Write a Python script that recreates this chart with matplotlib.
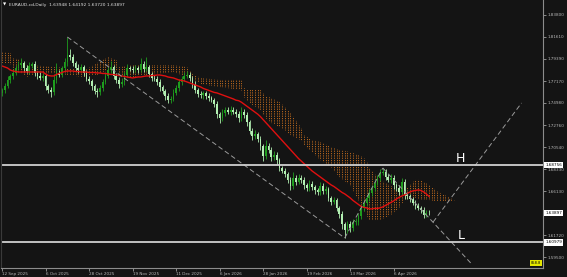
import numpy as np
import matplotlib.pyplot as plt

plt.rcParams['font.family'] = ['DejaVu Sans']

# daily closes, EURAUD-cd (bar 0 = 12 Sep 2025)
closes = [
    1.7627, 1.7667, 1.7728, 1.7768, 1.7798, 1.7848, 1.7878, 1.7898, 1.7848, 1.7818, 1.7868, 1.7888, 1.7798, 1.7768, 1.7748, 1.7768,
    1.7667, 1.7627, 1.7607, 1.7728, 1.7798, 1.7778, 1.7848, 1.7908, 1.7978, 1.7958, 1.7898, 1.7848, 1.7828, 1.7858, 1.7798, 1.7738,
    1.7718, 1.7667, 1.7617, 1.7607, 1.7647, 1.7708, 1.7768, 1.7828, 1.7858, 1.7768, 1.7728, 1.7687, 1.7708, 1.7778, 1.7848, 1.7838,
    1.7828, 1.7848, 1.7828, 1.7888, 1.7838, 1.7858, 1.7788, 1.7748, 1.7738, 1.7708, 1.7657, 1.7617, 1.7567, 1.7527, 1.7537, 1.7597,
    1.7647, 1.7708, 1.7738, 1.7768, 1.7778, 1.7748, 1.7687, 1.7627, 1.7587, 1.7577, 1.7597, 1.7567, 1.7547, 1.7527, 1.7487, 1.7387,
    1.7346, 1.7397, 1.7427, 1.7407, 1.7427, 1.7407, 1.7387, 1.7346, 1.7407, 1.7377, 1.7306, 1.7216, 1.7166, 1.7186, 1.7136, 1.7066,
    1.6965, 1.7066, 1.7026, 1.6955, 1.6975, 1.6925, 1.6845, 1.6815, 1.6785, 1.6725, 1.6664, 1.6745, 1.6705, 1.6745, 1.6725, 1.6674,
    1.6644, 1.6685, 1.6654, 1.6624, 1.6604, 1.6664, 1.6614, 1.6634, 1.6544, 1.6504, 1.6524, 1.6444, 1.6384, 1.6283, 1.6223, 1.6283,
    1.6243, 1.6303, 1.6303, 1.6363, 1.6444, 1.6494, 1.6544, 1.6594, 1.6644, 1.6695, 1.6745, 1.6795, 1.6805, 1.6755, 1.6725, 1.6745,
    1.6674, 1.6644, 1.6604, 1.6705, 1.6574, 1.6564, 1.6534, 1.6494, 1.6464, 1.6444, 1.6424, 1.6372, 1.6395, 1.63897,
]
first_open = 1.7600

# wick lengths in pips above / below the body
upper_wick = [
    25, 30, 40, 20, 35, 30, 45, 50, 20, 30, 40, 25, 30, 20, 35, 30,
    20, 25, 30, 60, 100, 30, 25, 40, 181, 60, 30, 25, 40, 30, 20, 25,
    30, 20, 25, 30, 35, 25, 40, 30, 60, 20, 25, 30, 35, 30, 40, 25,
    30, 35, 20, 60, 30, 100, 25, 20, 30, 25, 30, 20, 25, 30, 35, 40,
    30, 25, 30, 40, 35, 25, 20, 30, 25, 30, 20, 25, 30, 20, 25, 30,
    20, 35, 30, 25, 40, 30, 25, 30, 50, 30, 25, 20, 30, 40, 25, 30,
    20, 60, 30, 25, 40, 30, 20, 25, 30, 20, 25, 60, 30, 40, 25, 30,
    20, 35, 30, 25, 20, 40, 30, 35, 25, 20, 30, 25, 20, 30, 25, 30,
    35, 30, 40, 30, 25, 30, 35, 40, 30, 35, 30, 40, 40, 25, 30, 35,
    30, 25, 30, 40, 25, 30, 25, 20, 30, 25, 20, 30, 25, 24,
]
lower_wick = [
    30, 25, 20, 35, 30, 25, 20, 30, 40, 25, 30, 20, 35, 30, 25, 30,
    40, 30, 50, 25, 30, 20, 25, 30, 40, 30, 25, 35, 30, 20, 30, 25,
    30, 40, 30, 45, 25, 30, 20, 25, 30, 35, 30, 40, 25, 30, 20, 25,
    30, 25, 30, 20, 30, 25, 35, 30, 25, 30, 35, 30, 40, 35, 30, 25,
    20, 25, 30, 20, 25, 30, 35, 30, 25, 30, 35, 25, 30, 25, 35, 40,
    45, 25, 30, 25, 30, 20, 30, 40, 25, 30, 35, 30, 40, 30, 35, 40,
    50, 25, 30, 40, 30, 35, 30, 25, 30, 35, 40, 25, 30, 25, 30, 35,
    30, 25, 30, 35, 30, 25, 30, 25, 35, 30, 25, 35, 40, 45, 80, 30,
    35, 30, 25, 30, 25, 30, 25, 30, 25, 30, 25, 30, 25, 30, 25, 30,
    35, 30, 25, 30, 35, 25, 30, 25, 30, 25, 30, 25, 20, 18,
]

# red moving average
ma = [
    1.7868, 1.7858, 1.7848, 1.7828, 1.7818, 1.7813, 1.7808, 1.7808, 1.7808, 1.7808, 1.7808, 1.7808, 1.7808, 1.7808, 1.7808, 1.7808,
    1.7788, 1.7773, 1.7768, 1.7768, 1.7783, 1.7793, 1.7803, 1.7813, 1.7818, 1.7818, 1.7818, 1.7813, 1.7813, 1.7808, 1.7808, 1.7808,
    1.7803, 1.7803, 1.7803, 1.7798, 1.7798, 1.7793, 1.7793, 1.7788, 1.7783, 1.7783, 1.7778, 1.7773, 1.7768, 1.7763, 1.7758, 1.7753,
    1.7748, 1.7753, 1.7758, 1.7758, 1.7763, 1.7768, 1.7768, 1.7773, 1.7773, 1.7778, 1.7778, 1.7773, 1.7768, 1.7758, 1.7753, 1.7748,
    1.7738, 1.7728, 1.7723, 1.7718, 1.7708, 1.7698, 1.7688, 1.7678, 1.7668, 1.7658, 1.7643, 1.7633, 1.7623, 1.7613, 1.7603, 1.7598,
    1.7588, 1.7578, 1.7568, 1.7558, 1.7548, 1.7538, 1.7525, 1.7520, 1.7505, 1.7485, 1.7465, 1.7445, 1.7425, 1.7405, 1.7385, 1.7360,
    1.7330, 1.7300, 1.7270, 1.7240, 1.7210, 1.7180, 1.7150, 1.7120, 1.7090, 1.7060, 1.7030, 1.7000, 1.6970, 1.6940, 1.6915, 1.6890,
    1.6865, 1.6840, 1.6815, 1.6795, 1.6775, 1.6755, 1.6735, 1.6715, 1.6695, 1.6675, 1.6660, 1.6640, 1.6620, 1.6600, 1.6585, 1.6565,
    1.6545, 1.6520, 1.6500, 1.6480, 1.6460, 1.6450, 1.6445, 1.6435, 1.6435, 1.6440, 1.6440, 1.6445, 1.6455, 1.6470, 1.6485, 1.6500,
    1.6515, 1.6535, 1.6550, 1.6565, 1.6575, 1.6590, 1.6605, 1.6615, 1.6620, 1.6625, 1.6620, 1.6605, 1.6585, 1.6560,
]

# ichimoku cloud edges (bar, upper, lower)
cloud_bar = [0, 3, 4, 7, 9, 11, 19, 24, 30, 35, 39, 42, 43, 48, 63, 68, 70, 73, 80, 88,
             89, 91, 95, 97, 99, 102, 104, 106, 108, 110, 111, 114, 117, 121, 124, 128, 132, 134, 135, 139,
             143, 146, 148, 150, 152, 154, 157, 161, 165, 167]
cloud_top = [1.8008, 1.7998, 1.7948, 1.7928, 1.7878, 1.7878, 1.7858, 1.7848, 1.7818, 1.7898,
             1.7958, 1.7928, 1.7858, 1.7878, 1.7878, 1.7858, 1.7788, 1.7748, 1.7728, 1.7728,
             1.7647, 1.7627, 1.7627, 1.7567, 1.7547, 1.7507, 1.7457, 1.7397, 1.7326, 1.7246,
             1.7176, 1.7126, 1.7106, 1.7056, 1.7026, 1.7005, 1.6965, 1.6925, 1.6845, 1.6725,
             1.6664, 1.6624, 1.6624, 1.6674, 1.6725, 1.6725, 1.6674, 1.6594, 1.6544, 1.6504]
cloud_bot = [1.7898, 1.7898, 1.7808, 1.7798, 1.7758, 1.7778, 1.7798, 1.7778, 1.7758, 1.7778,
             1.7828, 1.7828, 1.7778, 1.7758, 1.7808, 1.7758, 1.7728, 1.7687, 1.7657, 1.7627,
             1.7557, 1.7497, 1.7427, 1.7346, 1.7296, 1.7256, 1.7226, 1.7176, 1.7146, 1.7126,
             1.7076, 1.7005, 1.6925, 1.6855, 1.6755, 1.6674, 1.6474, 1.6374, 1.6323, 1.6323,
             1.6374, 1.6444, 1.6524, 1.6544, 1.6544, 1.6524, 1.6524, 1.6504, 1.6504, 1.6504]

# hand drawn trend lines (bar, price)
trend_lines = [
    ([24, 126], [1.8159, 1.6143]),
    ([126, 140], [1.6143, 1.6845]),
    ([140, 173], [1.6845, 1.5872]),
    ([158.5, 191], [1.6303, 1.7497]),
]
level_h = 1.68756
level_l = 1.60979
last_price = 1.63897

price_ticks = [1.83800, 1.81610, 1.79390, 1.77170, 1.74980, 1.72760, 1.70540,
               1.68330, 1.66130, 1.61720, 1.59500]
date_bars = [0, 16, 32, 48, 64, 80, 96, 112, 128, 144]
date_labels = ['12 Sep 2025', '6 Oct 2025', '28 Oct 2025', '19 Nov 2025', '11 Dec 2025',
               '6 Jan 2026', '28 Jan 2026', '19 Feb 2026', '13 Mar 2026', '6 Apr 2026']

bg = '#141414'
bull = '#1e9e1e'
bear = '#b2f0b2'
ymin, ymax = 1.5842, 1.8530

closes = np.array(closes)
opens = np.concatenate([[first_open], closes[:-1]])
pip = 0.0001
highs = np.maximum(opens, closes) + np.array(upper_wick) * pip
lows = np.minimum(opens, closes) - np.array(lower_wick) * pip
bars = np.arange(len(closes))
colors = np.where(closes >= opens, bull, bear)

fig = plt.figure(figsize=(5.67, 2.77), dpi=100, facecolor=bg)
ax = fig.add_axes([1 / 567, 9 / 277, 542 / 567, 268 / 277])
ax.set_facecolor(bg)

# cloud: dotted vertical strokes per bar, clipped to the cloud outline
cloud = ax.fill_between(cloud_bar, cloud_bot, cloud_top, facecolor='none', linewidth=0)
strokes = ax.vlines(np.arange(cloud_bar[0], cloud_bar[-1] + 1), ymin, ymax,
                    colors='#b5651d', linewidth=0.7, linestyles=(0, (1.2, 1.2)))
strokes.set_clip_path(cloud.get_paths()[0], transform=ax.transData)

# candles
ax.vlines(bars, lows, highs, colors=colors, linewidth=0.6)
body = np.maximum(np.abs(closes - opens), 0.0006)
ax.bar(bars, body, bottom=np.minimum(opens, closes), width=0.62, color=colors, linewidth=0)

ax.plot(bars, ma, color='#e01010', lw=1.0)

for bx, py in trend_lines:
    ax.plot(bx, py, color='#9a9a9a', lw=0.7, ls=(0, (5, 3)))

ax.axhline(level_h, color='#d0d0d0', lw=1.3)
ax.axhline(level_l, color='#d0d0d0', lw=1.3)
ax.text(168.7, 1.6945, 'H', color='white', fontsize=9, ha='center', va='center')
ax.text(168.7, 1.6163, 'L', color='white', fontsize=9, ha='center', va='center')

ax.set_xlim(-0.4, 198.9)
ax.set_ylim(ymin, ymax)

ax.yaxis.tick_right()
ax.set_yticks(price_ticks)
ax.set_yticklabels([f'{v:.5f}' for v in price_ticks])
ax.tick_params(axis='y', colors='#b8b8b8', labelsize=3, length=2, width=0.5, pad=1.5)
ax.set_xticks(date_bars)
ax.set_xticklabels(date_labels)
for lbl in ax.get_xticklabels():
    lbl.set_ha('left')
ax.tick_params(axis='x', colors='#b8b8b8', labelsize=3, length=2, width=0.5, pad=1)

ax.spines['top'].set_visible(False)
ax.spines['left'].set_color('#3a3a3a')
for s in ['right', 'bottom']:
    ax.spines[s].set_color('#8c8c8c')
    ax.spines[s].set_linewidth(0.8)

for v in [level_h, last_price, level_l]:
    ax.text(1.004, v, f'{v:.5f}', transform=ax.get_yaxis_transform(), fontsize=3,
            color='black', va='center', ha='left',
            bbox=dict(boxstyle='square,pad=0.25', fc='white', ec='none'))

ax.text(0.997, 0.018, '858.8', transform=ax.transAxes, fontsize=2.6, color='black',
        ha='right', va='center', bbox=dict(boxstyle='square,pad=0.2', fc='#e4e600', ec='none'))

fig.text(2.5 / 567, 1 - 5 / 277, '\u25bc', fontsize=3, color='white', va='center')
fig.text(9 / 567, 1 - 5 / 277, 'EURAUD-cd,Daily  1.63948 1.64192 1.63720 1.63897',
         fontsize=3.2, color='#e0e0e0', va='center')

fig.savefig('out.png', dpi=100, facecolor=bg)
